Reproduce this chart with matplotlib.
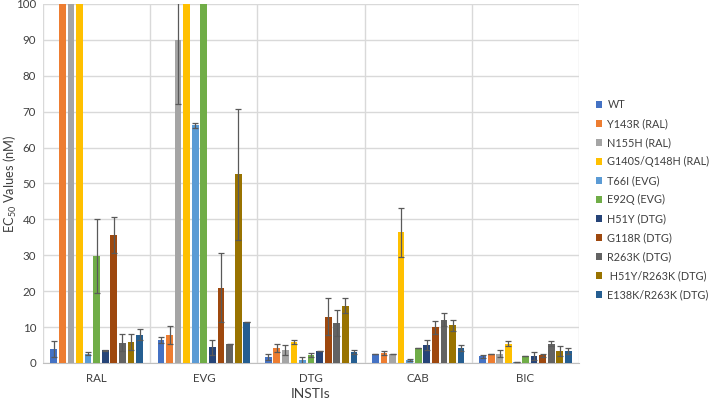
import numpy as np
import matplotlib.pyplot as plt

plt.rcParams['font.family'] = ['Lato', 'DejaVu Sans']
plt.rcParams['mathtext.default'] = 'regular'

# data (bars above 100 are off-scale in the original)
drugs = ['RAL', 'EVG', 'DTG', 'CAB', 'BIC']
mutants = ['WT', 'Y143R (RAL)', 'N155H (RAL)', 'G140S/Q148H (RAL)', 'T66I (EVG)',
           'E92Q (EVG)', 'H51Y (DTG)', 'G118R (DTG)', 'R263K (DTG)',
           ' H51Y/R263K (DTG)', 'E138K/R263K (DTG)']
colors = ['#4472C4', '#ED7D31', '#A5A5A5', '#FFC000', '#5B9BD5', '#70AD47',
          '#264478', '#9E480E', '#636363', '#997300', '#255E91']

# rows = mutants, columns = drugs (RAL, EVG, DTG, CAB, BIC)
ec50 = [
    [3.9, 6.4, 1.6, 2.5, 1.9],
    [150, 7.8, 4.2, 2.7, 2.5],
    [150, 90.0, 3.6, 2.4, 2.6],
    [150, 150, 5.9, 36.4, 5.4],
    [2.6, 66.2, 0.7, 0.8, 0.2],
    [29.9, 150, 2.2, 4.2, 2.0],
    [3.5, 4.4, 3.3, 5.0, 1.9],
    [35.7, 21.0, 12.9, 9.9, 2.1],
    [5.6, 5.4, 11.2, 12.1, 5.4],
    [5.9, 52.5, 15.9, 10.5, 3.3],
    [7.9, 11.4, 3.1, 4.1, 3.3],
]
ec50_err = [
    [2.2, 0.8, 0.9, 0.0, 0.4],
    [0.0, 2.4, 1.2, 0.6, 0.0],
    [0.0, 18.0, 1.4, 0.0, 1.0],
    [0.0, 0.0, 0.5, 6.8, 0.8],
    [0.5, 0.7, 1.0, 0.3, 0.0],
    [10.3, 0.0, 0.6, 0.0, 0.0],
    [0.1, 2.1, 0.0, 1.4, 1.2],
    [5.0, 9.7, 5.1, 1.7, 0.5],
    [2.4, 0.0, 3.6, 1.9, 0.7],
    [2.3, 18.3, 2.1, 1.5, 1.3],
    [1.6, 0.0, 0.5, 0.9, 0.9],
]

fig = plt.figure(figsize=(7.09, 4.03), dpi=100)
ax = fig.add_axes([0.0607, 0.0993, 0.756, 0.891])

x = np.arange(len(drugs)) + 0.5
slot = 0.08
for i, name in enumerate(mutants):
    pos = x + (i - 5) * slot
    ax.bar(pos, ec50[i], width=0.063, color=colors[i], label=name, zorder=3)
    ax.errorbar(pos, ec50[i], yerr=ec50_err[i], fmt='none', ecolor='#595959',
                elinewidth=0.9, capsize=2.2, capthick=0.9, zorder=4)

ax.set_xlim(0, len(drugs))
ax.set_ylim(0, 100)
ax.set_yticks(np.arange(0, 101, 10))
ax.set_xticks(x)
ax.set_xticklabels(drugs)
for b in range(len(drugs) + 1):
    ax.axvline(b, color='#d9d9d9', lw=1, zorder=1)
ax.grid(axis='y', color='#d9d9d9', lw=1, zorder=1)
for s in ['top', 'right', 'left']:
    ax.spines[s].set_visible(False)
ax.spines['bottom'].set_color('#bfbfbf')
ax.tick_params(axis='y', length=0, labelsize=8.3, colors='#404040', pad=5)
ax.tick_params(axis='x', length=0, labelsize=8.3, colors='#404040', pad=7)
ax.set_xlabel('INSTIs', fontsize=10, color='#404040')
ax.xaxis.set_label_coords(0.5, -0.085)
ax.xaxis.label.set_va('center')
ax.set_ylabel(r'EC$_{50}$ Values (nM)', fontsize=9.3, color='#404040')
ax.yaxis.set_label_coords(-0.061, 0.5)
ax.yaxis.label.set_va('center')

fig.legend(loc='center left', bbox_to_anchor=(0.84, 0.504), frameon=False,
           fontsize=7.8, handlelength=0.6, handleheight=0.6, handletextpad=0.5,
           labelspacing=0.74, labelcolor='#404040', borderpad=0, borderaxespad=0)

plt.savefig('out.png', dpi=100)
